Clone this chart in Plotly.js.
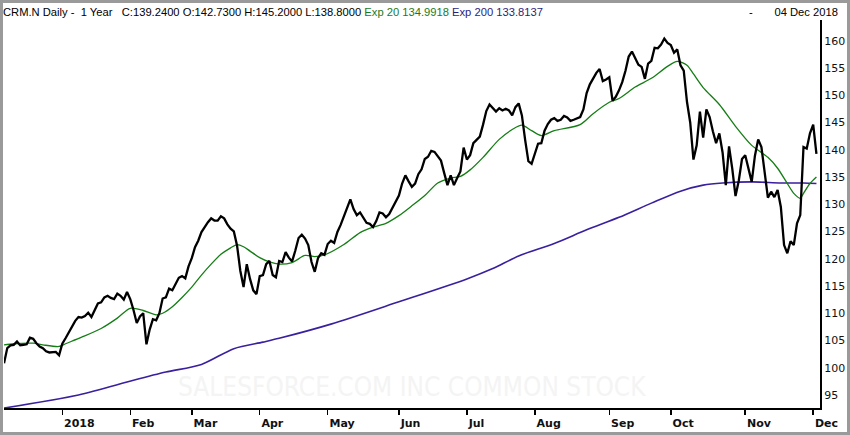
<!DOCTYPE html>
<html>
<head>
<meta charset="utf-8">
<script src="https://cdn.plot.ly/plotly-3.0.1.min.js"></script>
<style>
html,body{margin:0;padding:0;background:#fff;overflow:hidden;}
#chart{width:850px;height:435px;}
</style>
</head>
<body>
<div id="chart"></div>
<script>
// Daily closes, trading days 1..252 (5 Dec 2017 .. 4 Dec 2018)
const closes = [
100.8,103.6,104.1,104.2,104.8,104.1,104.2,104.3,105.5,105.3,
104.5,103.9,103.6,103.0,102.8,102.9,102.9,102.3,104.4,105.4,
106.5,107.6,108.6,109.3,109.2,109.5,110.1,109.3,110.6,111.8,
112.0,112.9,113.2,112.8,112.6,113.6,113.2,112.5,113.9,112.6,
110.6,108.2,109.4,110.0,104.3,107.0,108.9,108.7,110.0,112.7,
112.9,114.5,114.2,115.5,116.5,116.8,116.4,118.6,120.1,122.1,
123.3,124.9,125.9,126.7,127.4,127.0,127.0,127.8,127.4,126.3,
125.5,125.0,122.4,117.8,114.8,119.0,116.3,114.2,113.5,116.8,
117.0,119.0,119.6,117.0,116.6,119.6,119.4,121.2,120.2,119.5,
121.5,123.8,124.4,123.7,122.5,119.4,117.6,120.1,121.0,120.7,
122.7,123.3,122.9,124.9,126.2,127.9,129.4,130.9,129.1,128.0,
128.5,127.5,126.6,126.4,125.8,126.9,128.5,128.3,127.6,128.2,
129.4,130.4,131.6,133.8,135.3,134.2,133.2,133.8,135.5,136.4,
138.3,138.7,139.8,139.6,138.8,138.0,135.7,133.5,135.3,133.5,
134.8,136.0,140.4,138.2,139.0,141.2,141.8,142.4,144.6,147.1,
148.3,147.6,147.0,147.6,147.2,147.5,147.2,146.3,147.8,148.5,
146.3,141.8,137.9,137.4,139.2,141.1,141.2,143.5,144.7,145.5,
145.8,145.3,145.5,146.2,145.9,145.3,145.5,145.8,146.0,147.4,
150.4,152.0,153.0,154.1,154.8,152.6,152.9,153.3,149.0,149.7,
150.9,152.4,154.5,157.1,158.0,156.9,155.6,155.2,153.0,155.8,
156.3,158.7,158.6,159.3,160.4,159.6,159.2,157.8,158.4,155.5,
154.5,148.8,145.0,138.2,140.8,147.0,142.2,147.4,146.0,143.4,
141.2,143.0,139.5,133.5,140.6,136.5,131.5,134.3,138.3,139.0,
136.8,134.1,138.9,141.9,140.5,136.0,131.2,132.3,131.3,132.6,
129.5,122.5,121.0,123.2,122.5,126.5,128.0,140.5,140.2,143.0,
144.6,139.24
];

// Exponential moving average 20, by trading day
const ema20Day = [1,4,10,13,18,20,25,31,36,40,44,48,50,53,56,59,62,65,68,71,
73,75,77,80,83,86,90,94,97,100,106,111,115,119,123,127,131,135,139,142,
145,149,154,158,161,164,167,171,179,183,188,191,196,201,206,209,212,214,217,222,
227,232,234,237,240,243,245,247,248,250,252];
const ema20 = [104.2,104.4,104.5,104.2,103.9,104.4,105.6,107.2,109.1,110.9,
110.5,109.7,110.0,111.2,112.9,114.8,117.0,119.0,120.8,122.0,
122.6,122.2,121.4,120.2,119.4,119.0,119.3,120.6,120.4,120.7,
122.6,124.8,125.8,126.5,127.9,129.7,131.6,133.9,134.8,135.1,
136.3,138.6,141.9,143.7,144.5,143.5,142.6,143.5,144.6,146.6,
148.7,149.4,151.5,153.1,155.3,156.2,155.5,153.9,151.4,148.3,
144.3,140.8,139.9,138.6,136.6,133.8,132.0,131.1,132.0,133.8,134.99];

// Exponential moving average 200
const ema200Day = [1,24,41,51,62,72,81,86,102,123,144,152,160,171,181,191,201,210,217,223,232,241,248,252];
const ema200 = [92.6,95.0,97.7,99.2,100.6,103.5,104.7,105.4,108.0,112.1,116.3,118.2,120.5,122.8,125.3,127.6,130.2,132.4,133.5,133.9,134.1,133.9,133.9,133.81];

// Axis ticks
const monthStartDay = [19,40,59,80,101,123,144,165,188,207,230,251];
const monthLabels = ['2018','Feb','Mar','Apr','May','Jun','Jul','Aug','Sep','Oct','Nov','Dec'];
const priceTicks = [95,100,105,110,115,120,125,130,135,140,145,150,155,160];

const headerText = 'CRM.N Daily -&nbsp; 1 Year&nbsp;&nbsp; C:139.2400 O:142.7300 H:145.2000 L:138.8000 ' +
  '<span style="color:#1b7a1b">Exp 20 134.9918</span> <span style="color:#2e1d7a">Exp 200 133.8137</span>';
const dateText = '-&nbsp;&nbsp;&nbsp;&nbsp;&nbsp;&nbsp; 04 Dec 2018';
const watermark = 'SALESFORCE.COM INC COMMON STOCK';

const days = closes.map((_, i) => i + 1);

const W = 850, H = 435;
const M = {l: 4, r: 30, t: 20, b: 27};
const PW = W - M.l - M.r, PH = H - M.t - M.b;

const traces = [
  {x: ema200Day, y: ema200, type: 'scatter', mode: 'lines',
   line: {color: '#3a1f9e', width: 1.6, shape: 'spline', smoothing: 0.8}, hoverinfo: 'skip'},
  {x: ema20Day, y: ema20, type: 'scatter', mode: 'lines',
   line: {color: '#157d15', width: 1.3, shape: 'spline', smoothing: 0.8}, hoverinfo: 'skip'},
  {x: days, y: closes, type: 'scatter', mode: 'lines',
   line: {color: '#000000', width: 2.3}, hoverinfo: 'skip'}
];

const layout = {
  width: W, height: H,
  margin: {l: M.l, r: M.r, t: M.t, b: M.b, pad: 0},
  paper_bgcolor: '#ffffff', plot_bgcolor: '#ffffff',
  showlegend: false,
  font: {family: 'Liberation Sans, Arial, sans-serif', size: 11, color: '#000'},
  title: {
    text: headerText,
    font: {family: 'Liberation Sans, Arial, sans-serif', size: 11.2, color: '#000'},
    xref: 'container', x: 3 / W, xanchor: 'left',
    yref: 'container', y: 1 - 12 / H, yanchor: 'middle'
  },
  xaxis: {
    range: [0.99, 253.1],
    tickmode: 'array', tickvals: monthStartDay, ticktext: monthLabels,
    ticks: 'outside', ticklen: 5, tickwidth: 1.5, tickcolor: '#000',
    ticklabelposition: 'outside right', ticklabelstandoff: 4,
    showline: true, linecolor: '#000', linewidth: 2,
    showgrid: false, zeroline: false, fixedrange: true,
    tickfont: {family: 'DejaVu Sans, sans-serif', size: 11, color: '#111', weight: 'bold'}
  },
  yaxis: {
    side: 'right',
    range: [92.61, 163.8],
    tickmode: 'array', tickvals: priceTicks,
    ticks: '', showline: true, linecolor: '#000', linewidth: 2,
    showgrid: false, zeroline: false, fixedrange: true,
    tickfont: {family: 'DejaVu Sans, sans-serif', size: 11, color: '#111'}
  },
  annotations: [
    {text: dateText, showarrow: false,
     xref: 'paper', x: (840 - M.l) / PW, xanchor: 'right',
     yref: 'paper', y: 1 + (M.t - 12) / PH, yanchor: 'middle',
     font: {family: 'Liberation Sans, Arial, sans-serif', size: 11.2, color: '#000'}},
    {text: watermark, showarrow: false,
     xref: 'paper', x: (411.5 - M.l) / PW, xanchor: 'center',
     yref: 'paper', y: (408 - 387) / PH, yanchor: 'middle',
     font: {family: 'Liberation Sans Narrow, DejaVu Sans Condensed, Liberation Sans, sans-serif', size: 26, color: '#f4f4f4'}}
  ],
  shapes: [
    {type: 'rect', xref: 'paper', yref: 'paper',
     x0: (1.5 - M.l) / PW, x1: (W - 1.5 - M.l) / PW,
     y0: -(M.b - 1.5) / PH, y1: 1 + (M.t - 1.5) / PH,
     line: {color: '#9a9a9a', width: 3}, fillcolor: 'rgba(0,0,0,0)', layer: 'above'}
  ]
};

Plotly.newPlot('chart', traces, layout, {staticPlot: true, displayModeBar: false});
</script>
</body>
</html>
